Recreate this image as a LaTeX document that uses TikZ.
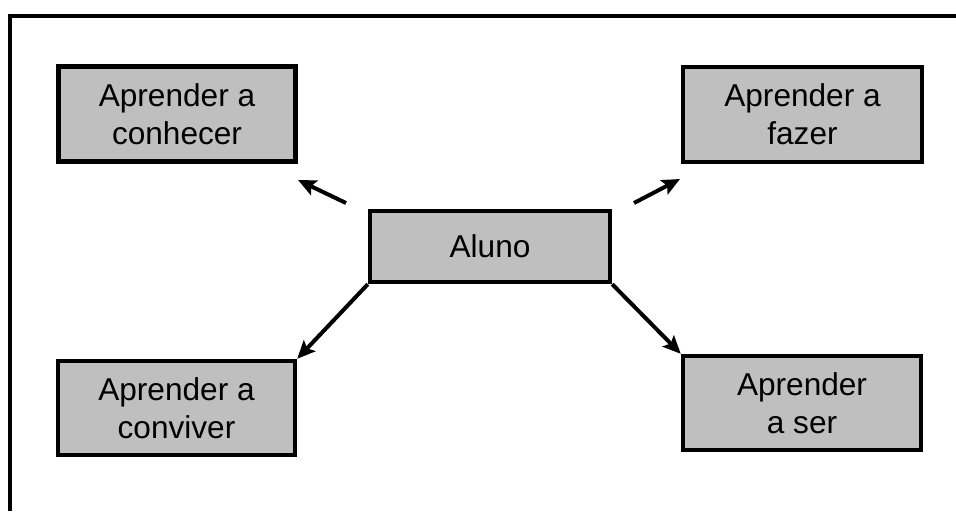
\documentclass[tikz,border=0pt]{standalone}
\usepackage{fontspec}
\setmainfont{Liberation Sans}
\usetikzlibrary{arrows.meta}
\tikzset{
  caixa/.style={draw=black, line width=2.2pt, fill=black!25, align=center,
    inner sep=0pt, font=\fontsize{15.8}{19}\selectfont},
  seta/.style={line width=2pt, -{Stealth[length=9pt,width=8pt,inset=1.8pt]}}
}
\begin{document}
\begin{tikzpicture}[x=0.5pt,y=-0.5pt]
      \useasboundingbox (0,0) rectangle (956,511);
      \draw[line width=1.8pt] (10,511) -- (10,16) -- (956,16);
      \draw
        (177,114) node[caixa, minimum width=118.5pt, minimum height=47.5pt] (conhecer){Aprender a\\conhecer}
        (802.5,114.5) node[caixa, minimum width=119.5pt, minimum height=47.5pt] (fazer){Aprender a\\fazer}
        (490,246.5) node[caixa, minimum width=120pt, minimum height=35.5pt] (aluno){Aluno}
        (176.5,408) node[caixa, minimum width=118.5pt, minimum height=47pt] (conviver){Aprender a\\conviver}
        (802,403) node[caixa, minimum width=119pt, minimum height=47pt] (ser){Aprender\\a ser};
      \coordinate (c1) at (346,203);
      \coordinate (c2) at (298,180);
      \coordinate (f1) at (634,203);
      \coordinate (f2) at (680,179);
      \begin{scope}[seta]
        \draw (c1) to (c2);
        \draw (f1) to (f2);
        \draw (aluno.south west) to (conviver.north east);
        \draw (aluno.south east) to (ser.north west);
      \end{scope}
    \end{tikzpicture}
\end{document}
